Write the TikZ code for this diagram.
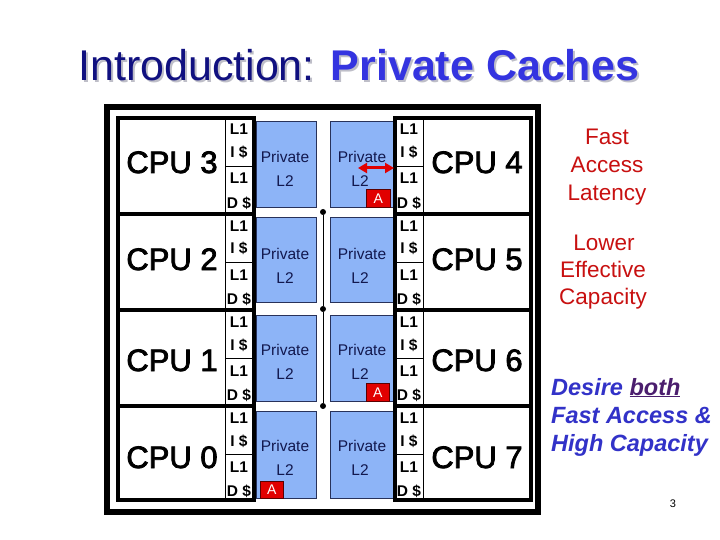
\documentclass[tikz,border=0pt]{standalone}
\usepackage{fontspec}
\setmainfont{Liberation Sans}
\newfontfamily\cpufont{Liberation Sans}[FakeBold=2.5]
\usetikzlibrary{arrows.meta}
\definecolor{l2blue}{RGB}{141,180,247}
\definecolor{l2edge}{RGB}{40,50,90}
\definecolor{l2navy}{RGB}{18,24,78}
\definecolor{ared}{RGB}{225,0,0}
\definecolor{aedge}{RGB}{90,0,0}
\definecolor{titlenavy}{RGB}{16,16,128}
\definecolor{titleblue}{RGB}{52,52,224}
\definecolor{shadowgray}{RGB}{190,190,200}
\definecolor{noteRed}{RGB}{200,16,16}
\definecolor{noteBlue}{RGB}{50,50,200}
\definecolor{notePurple}{RGB}{75,30,110}
\tikzset{
  blk/.style={line width=4pt},
  thinln/.style={line width=0.9pt},
  l2box/.style={draw=l2edge, line width=0.8pt, fill=l2blue, inner sep=0pt, anchor=north west},
  abox/.style={draw=aedge, line width=0.6pt, fill=ared, text=white, inner sep=0pt, anchor=north west,
    font=\fontsize{14}{16}\selectfont},
  cpulabel/.style={anchor=base, inner sep=0pt, font=\cpufont\fontsize{31}{36}\selectfont},
  l1text/.style={anchor=base, inner sep=0pt, font=\bfseries\fontsize{15.5}{18}\selectfont},
  l2text/.style={anchor=base, inner sep=0pt, text=l2navy, font=\fontsize{15.5}{18}\selectfont},
  busdot/.style={circle, fill=black, inner sep=0pt, minimum size=6pt},
  noteR/.style={anchor=base, inner sep=0pt, text=noteRed, font=\fontsize{22.5}{26}\selectfont},
  noteB/.style={anchor=base west, inner sep=0pt, text=noteBlue, font=\bfseries\itshape\fontsize{23.5}{28}\selectfont},
}
\begin{document}
\begin{tikzpicture}[x=1pt,y=-1pt]
\useasboundingbox (0,0) rectangle (720,540);
\fill[white] (0,0) rectangle (720,540);

% title with shadow
\node[anchor=base west, inner sep=0pt, text=shadowgray, font=\fontsize{43}{48}\selectfont]
  (titleshadow) at (80,83) {Introduction: {\bfseries Private Caches}};
\node[anchor=base west, inner sep=0pt, font=\fontsize{43}{48}\selectfont]
  (title) at (78,81) {\textcolor{titlenavy}{Introduction:} \textcolor{titleblue}{\bfseries Private Caches}};

% outer frame
\draw[line width=6pt] (107,107) rectangle (538,512);

% private L2 boxes
\node[l2box, minimum width=60pt, minimum height=86pt] (l2c3) at (256,121) {};
\node[l2box, minimum width=60pt, minimum height=85pt] (l2c2) at (256,217) {};
\node[l2box, minimum width=60pt, minimum height=86pt] (l2c1) at (256,315) {};
\node[l2box, minimum width=60pt, minimum height=87pt] (l2c0) at (256,411) {};
\node[l2box, minimum width=63pt, minimum height=86pt] (l2c4) at (330,121) {};
\node[l2box, minimum width=63pt, minimum height=85pt] (l2c5) at (330,217) {};
\node[l2box, minimum width=63pt, minimum height=86pt] (l2c6) at (330,315) {};
\node[l2box, minimum width=63pt, minimum height=87pt] (l2c7) at (330,411) {};

% CPU blocks
\draw[blk] (118,118) rectangle (254,500);
\draw[blk] (395,118) rectangle (531,500);
\foreach \y in {214,310,406} {
  \draw[blk] (118,\y) -- (254,\y);
  \draw[blk] (395,\y) -- (531,\y);
}
\draw[thinln] (225,118) -- (225,500);
\draw[thinln] (423,118) -- (423,500);
\foreach \y in {166,262,358,454} {
  \draw[thinln] (225,\y) -- (252,\y);
  \draw[thinln] (397,\y) -- (423,\y);
}

% labels per row
\foreach \t/\lc/\rc/\cb in {118/3/4/173, 214/2/5/270, 310/1/6/371, 406/0/7/468} {
  \node[cpulabel] (cpu\lc) at (172,\cb) {CPU \lc};
  \node[cpulabel] (cpu\rc) at (477,\cb) {CPU \rc};
  \node[l1text] (lia\lc) at (239,{\t+17}) {L1};
  \node[l1text] (lib\lc) at (239,{\t+40}) {I \$};
  \node[l1text] (lic\lc) at (239,{\t+66}) {L1};
  \node[l1text] (lid\lc) at (239,{\t+90}) {D \$};
  \node[l1text] (lia\rc) at (409,{\t+17}) {L1};
  \node[l1text] (lib\rc) at (409,{\t+40}) {I \$};
  \node[l1text] (lic\rc) at (409,{\t+66}) {L1};
  \node[l1text] (lid\rc) at (409,{\t+90}) {D \$};
  \node[l2text] (pa\lc) at (285,{\t+45}) {Private};
  \node[l2text] (pb\lc) at (285,{\t+69}) {L2};
  \node[l2text] (pa\rc) at (362,{\t+45}) {Private};
  \node[l2text] (pb\rc) at (360,{\t+69}) {L2};
}

% A blocks
\node[abox, minimum width=24pt, minimum height=18pt] (a4) at (366,189) {A};
\node[abox, minimum width=23pt, minimum height=18pt] (a6) at (366,383) {A};
\node[abox, minimum width=23pt, minimum height=17pt] (a0) at (260,481) {A};

% access arrow
\coordinate (arrL) at (358,168);
\coordinate (arrR) at (394,168);
\draw[draw=ared, line width=3pt, {Triangle[length=9pt,width=10pt]}-{Triangle[length=9pt,width=10pt]}] (arrL) -- (arrR);

% bus
\node[busdot] (bus1) at (323,212) {};
\node[busdot] (bus2) at (323,309) {};
\node[busdot] (bus3) at (323,406) {};
\draw[line width=1pt] (bus1) -- (bus2) -- (bus3);

% notes
\node[noteR] (n1) at (607,145) {Fast};
\node[noteR] (n2) at (607,173) {Access};
\node[noteR] (n3) at (607,201) {Latency};
\node[noteR] (n4) at (604,250) {Lower};
\node[noteR] (n5) at (603,277) {Effective};
\node[noteR] (n6) at (603,304) {Capacity};
\node[noteB] (d1) at (551,395) {Desire \textcolor{notePurple}{\underline{both}}};
\node[noteB] (d2) at (551,423) {Fast Access \&};
\node[noteB] (d3) at (551,451) {High Capacity};

% page number
\node[anchor=base, inner sep=0pt, font=\fontsize{11}{13}\selectfont] (pg) at (673,507) {3};
\end{tikzpicture}
\end{document}
